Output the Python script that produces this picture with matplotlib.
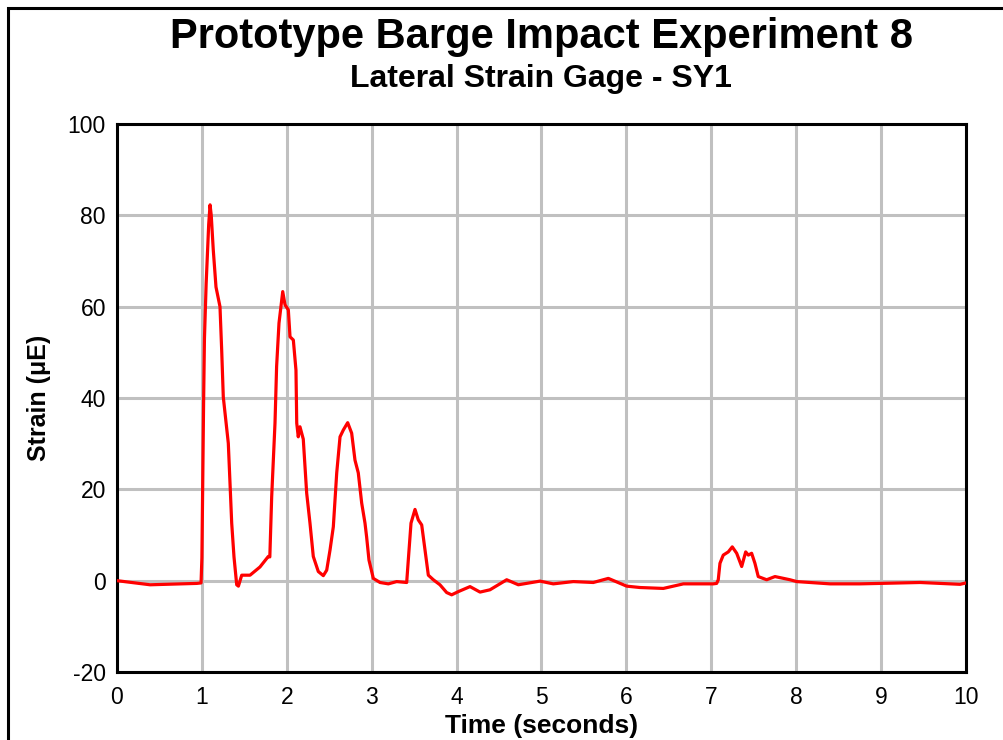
import matplotlib
matplotlib.use("Agg")
import matplotlib.pyplot as plt
from matplotlib.patches import Rectangle

# ---- data ----
time_s = [0.0, 0.39, 0.94, 0.99, 1.0, 1.01, 1.02, 1.03, 1.05, 1.08, 1.096, 1.11, 1.134, 1.166,
          1.213, 1.233, 1.252, 1.311, 1.331, 1.351, 1.378, 1.41, 1.43, 1.469, 1.567, 1.684,
          1.782, 1.8, 1.822, 1.861, 1.88, 1.908, 1.952, 1.979, 2.018, 2.038, 2.077, 2.108,
          2.117, 2.135, 2.155, 2.194, 2.234, 2.273, 2.312, 2.371, 2.43, 2.47, 2.509, 2.548,
          2.588, 2.627, 2.666, 2.717, 2.764, 2.803, 2.842, 2.882, 2.921, 2.94, 2.968, 3.019,
          3.098, 3.196, 3.294, 3.412, 3.431, 3.463, 3.51, 3.549, 3.589, 3.628, 3.667, 3.726,
          3.804, 3.883, 3.942, 4.02, 4.158, 4.276, 4.393, 4.59, 4.727, 4.982, 5.139, 5.375,
          5.61, 5.787, 6.003, 6.16, 6.435, 6.671, 7.024, 7.063, 7.082, 7.102, 7.141, 7.2,
          7.247, 7.299, 7.358, 7.405, 7.436, 7.475, 7.514, 7.553, 7.652, 7.75, 7.927, 8.006,
          8.4, 8.75, 9.46, 9.93, 10.0]
strain_ue = [0.0, -0.9, -0.6, -0.5, 5.0, 22.0, 39.0, 53.0, 65.0, 78.0, 82.3, 80.0, 72.4, 64.3,
             60.0, 50.5, 40.2, 30.1, 21.4, 12.6, 5.2, -0.9, -1.2, 1.2, 1.2, 3.0,
             5.3, 5.2, 18.4, 34.5, 46.9, 56.4, 63.3, 60.4, 59.3, 53.4, 52.7, 46.1,
             34.5, 31.5, 33.7, 31.0, 19.2, 12.6, 5.3, 2.0, 1.1, 2.3, 6.7, 11.8,
             23.6, 31.5, 33.0, 34.6, 32.3, 26.4, 23.6, 17.0, 12.6, 9.6, 4.5, 0.5,
             -0.4, -0.7, -0.2, -0.4, 4.5, 12.6, 15.6, 13.3, 12.2, 6.7, 1.2, 0.2,
             -0.9, -2.6, -3.1, -2.4, -1.3, -2.5, -2.0, 0.2, -0.9, -0.1, -0.7, -0.2,
             -0.4, 0.5, -1.2, -1.5, -1.7, -0.7, -0.7, -0.6, 0.2, 3.8, 5.6, 6.3,
             7.4, 6.0, 3.1, 6.3, 5.6, 6.0, 3.8, 0.9, 0.2, 0.9, 0.2, -0.2,
             -0.7, -0.7, -0.4, -0.8, -0.5]
x_ticks = [0, 1, 2, 3, 4, 5, 6, 7, 8, 9, 10]
y_ticks = [-20, 0, 20, 40, 60, 80, 100]

title = "Prototype Barge Impact Experiment 8"
subtitle = "Lateral Strain Gage - SY1"
x_label = "Time (seconds)"
y_label = "Strain (μE)"

plt.rcParams['font.family'] = ['Liberation Sans', 'DejaVu Sans']

fig = plt.figure(figsize=(10.04, 7.4), dpi=100)
fig.patch.set_facecolor('white')
ax = fig.add_axes([117/1004, 1 - 672/740, (966-117)/1004, (672-124)/740])

ax.plot(time_s, strain_ue, color='#ff0000', lw=2.3, zorder=3, solid_joinstyle='round')

ax.set_xlim(0, 10)
ax.set_ylim(-20, 100)
ax.set_xticks(x_ticks)
ax.set_yticks(y_ticks)
ax.set_xticklabels([str(v) for v in x_ticks])
ax.set_yticklabels([str(v) for v in y_ticks])
ax.tick_params(axis='both', length=0, labelsize=16.5, pad=10)
ax.tick_params(axis='y', pad=8)
ax.grid(True, color='#c0c0c0', lw=2.2)
ax.set_axisbelow(True)
for s in ax.spines.values():
    s.set_linewidth(2.2)
    s.set_color('black')

ax.set_xlabel(x_label, fontsize=19, fontweight='bold', labelpad=4)
ax.set_ylabel(y_label, fontsize=18, fontweight='bold', labelpad=12)

fig.text(542/1004, 1 - 37/740, title, ha='center', va='center', fontsize=30, fontweight='bold')
fig.text(541/1004, 1 - 79/740, subtitle, ha='center', va='center', fontsize=23, fontweight='bold')

# outer frame (left and top visible)
fig.patches.append(Rectangle((8/1004, -0.1), 1.2, 1 - 8/740 + 0.1, transform=fig.transFigure,
                             fill=False, edgecolor='black', lw=2.2, zorder=0))

fig.savefig('out.png', dpi=100)
